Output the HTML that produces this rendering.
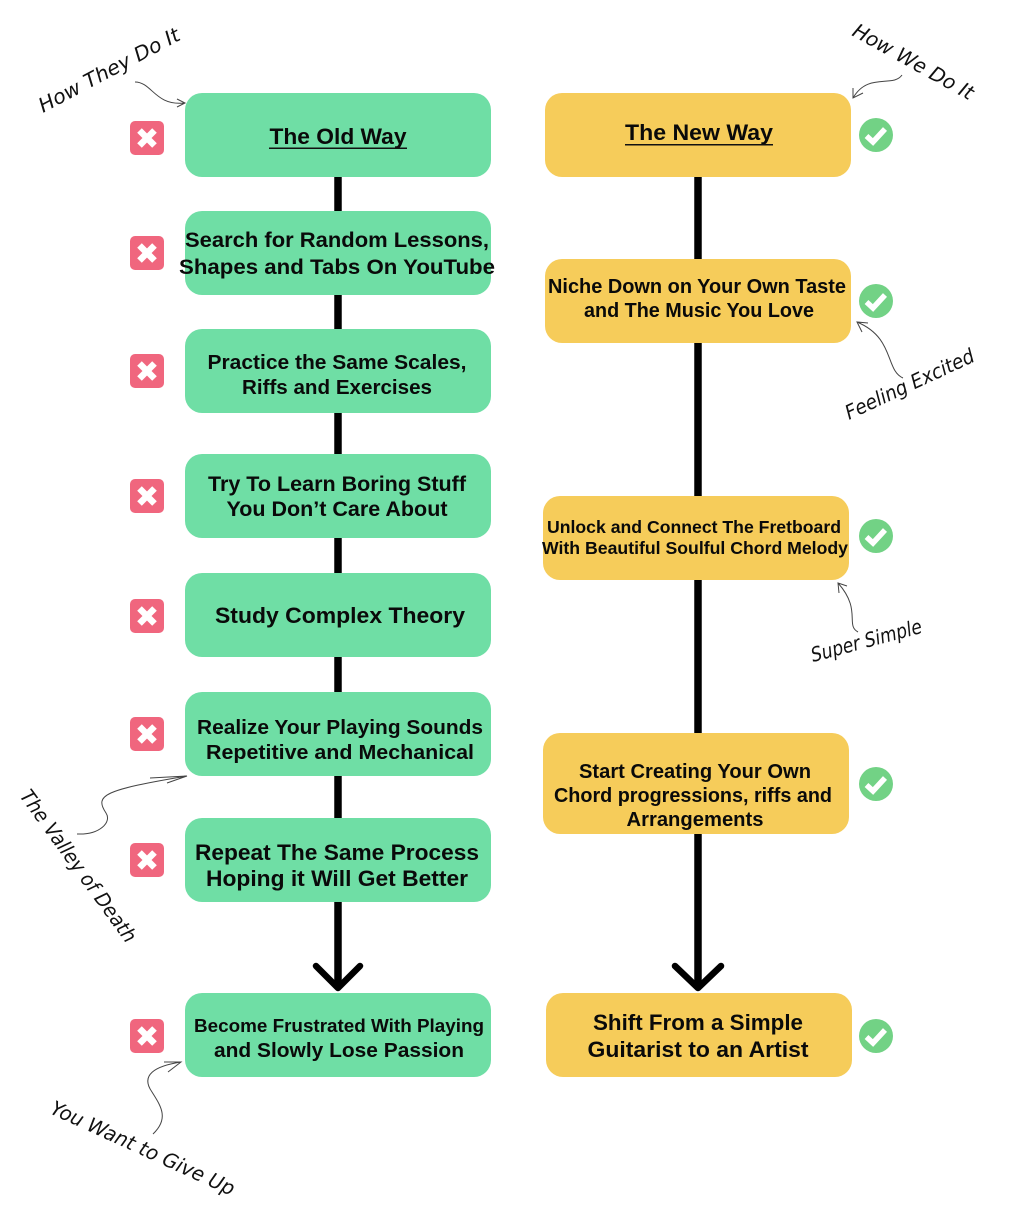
<!DOCTYPE html>
<html><head><meta charset="utf-8"><style>
html,body{margin:0;padding:0;background:#fff;width:1012px;height:1232px;overflow:hidden}
svg{display:block}
.t{font-family:"Liberation Sans",sans-serif;font-weight:bold;fill:#0a0a0a}
.h{font-family:"DejaVu Sans","Liberation Sans",sans-serif;font-size:20px;fill:#111;font-style:oblique}
.c{fill:none;stroke:#444;stroke-width:1}
</style></head><body>
<svg width="1012" height="1232" viewBox="0 0 1012 1232" xmlns="http://www.w3.org/2000/svg">
<defs>
<g id="x"><rect x="-17" y="-17" width="34" height="34" rx="5" fill="#f0667e"/><path d="M-7.500 -7.500L7.500 7.500M7.500 -7.500L-7.500 7.500" stroke="#fff" stroke-width="6.500"/></g>
<g id="v"><circle r="17" fill="#72d285"/><path d="M-9.500 1L-3 7L9 -6" fill="none" stroke="#fff" stroke-width="5.500"/></g>
</defs>
<!-- trunks -->
<g stroke="#000" stroke-width="7.500" fill="none">
<path d="M338 170V985"/>
<path d="M698 170V985"/>
</g>
<g stroke="#000" stroke-width="6.500" fill="none" stroke-linecap="round" stroke-linejoin="round">
<path d="M316 966L338 988L360 966"/>
<path d="M675 966L698 988L721 966"/>
</g>
<!-- old way boxes -->
<g fill="#6fdea5">
<rect x="185" y="93" width="306" height="84" rx="17"/>
<rect x="185" y="211" width="306" height="84" rx="17"/>
<rect x="185" y="329" width="306" height="84" rx="17"/>
<rect x="185" y="454" width="306" height="84" rx="17"/>
<rect x="185" y="573" width="306" height="84" rx="17"/>
<rect x="185" y="692" width="306" height="84" rx="17"/>
<rect x="185" y="818" width="306" height="84" rx="17"/>
<rect x="185" y="993" width="306" height="84" rx="17"/>
</g>
<!-- new way boxes -->
<g fill="#f6cc5a">
<rect x="545" y="93" width="306" height="84" rx="17"/>
<rect x="545" y="259" width="306" height="84" rx="17"/>
<rect x="543" y="496" width="306" height="84" rx="17"/>
<rect x="543" y="733" width="306" height="101" rx="17"/>
<rect x="546" y="993" width="306" height="84" rx="17"/>
</g>
<!-- left text -->
<g class="t" text-anchor="middle">
<text class="t" x="338" y="144" font-size="22" textLength="137" lengthAdjust="spacingAndGlyphs">The Old Way</text>
<rect x="269" y="147.500" width="138" height="1.500" fill="#111"/>
<text class="t" x="337" y="247" font-size="21.500" textLength="304" lengthAdjust="spacingAndGlyphs">Search for Random Lessons,</text>
<text class="t" x="337" y="274" font-size="21.500" textLength="316" lengthAdjust="spacingAndGlyphs">Shapes and Tabs On YouTube</text>
<text class="t" x="337" y="369" font-size="20" textLength="259" lengthAdjust="spacingAndGlyphs">Practice the Same Scales,</text>
<text class="t" x="337" y="394" font-size="20" textLength="190" lengthAdjust="spacingAndGlyphs">Riffs and Exercises</text>
<text class="t" x="337" y="491" font-size="21" textLength="258" lengthAdjust="spacingAndGlyphs">Try To Learn Boring Stuff</text>
<text class="t" x="337" y="516" font-size="21" textLength="221" lengthAdjust="spacingAndGlyphs">You Don’t Care About</text>
<text class="t" x="340" y="623" font-size="22.500" textLength="250" lengthAdjust="spacingAndGlyphs">Study Complex Theory</text>
<text class="t" x="340" y="734" font-size="20.500" textLength="286" lengthAdjust="spacingAndGlyphs">Realize Your Playing Sounds</text>
<text class="t" x="340" y="759" font-size="20.500" textLength="268" lengthAdjust="spacingAndGlyphs">Repetitive and Mechanical</text>
<text class="t" x="337" y="860" font-size="22" textLength="284" lengthAdjust="spacingAndGlyphs">Repeat The Same Process</text>
<text class="t" x="337" y="886" font-size="22" textLength="262" lengthAdjust="spacingAndGlyphs">Hoping it Will Get Better</text>
<text class="t" x="339" y="1032" font-size="18.500" textLength="290" lengthAdjust="spacingAndGlyphs">Become Frustrated With Playing</text>
<text class="t" x="339" y="1057" font-size="20.500" textLength="250" lengthAdjust="spacingAndGlyphs">and Slowly Lose Passion</text>
<!-- right text -->
<text class="t" x="699" y="140" font-size="22" textLength="148" lengthAdjust="spacingAndGlyphs">The New Way</text>
<rect x="625" y="144" width="148" height="1.500" fill="#111"/>
<text class="t" x="697" y="293" font-size="20" textLength="298" lengthAdjust="spacingAndGlyphs">Niche Down on Your Own Taste</text>
<text class="t" x="699" y="317" font-size="20" textLength="230" lengthAdjust="spacingAndGlyphs">and The Music You Love</text>
<text class="t" x="694" y="533" font-size="17.500" textLength="294" lengthAdjust="spacingAndGlyphs">Unlock and Connect The Fretboard</text>
<text class="t" x="695" y="554" font-size="17.500" textLength="306" lengthAdjust="spacingAndGlyphs">With Beautiful Soulful Chord Melody</text>
<text class="t" x="695" y="778" font-size="20" textLength="232" lengthAdjust="spacingAndGlyphs">Start Creating Your Own</text>
<text class="t" x="693" y="802" font-size="20" textLength="278" lengthAdjust="spacingAndGlyphs">Chord progressions, riffs and</text>
<text class="t" x="695" y="826" font-size="20" textLength="137" lengthAdjust="spacingAndGlyphs">Arrangements</text>
<text class="t" x="698" y="1030" font-size="22" textLength="210" lengthAdjust="spacingAndGlyphs">Shift From a Simple</text>
<text class="t" x="698" y="1057" font-size="22" textLength="221" lengthAdjust="spacingAndGlyphs">Guitarist to an Artist</text>
</g>
<!-- icons -->
<use href="#x" x="147" y="138"/>
<use href="#x" x="147" y="253"/>
<use href="#x" x="147" y="371"/>
<use href="#x" x="147" y="496"/>
<use href="#x" x="147" y="616"/>
<use href="#x" x="147" y="734"/>
<use href="#x" x="147" y="860"/>
<use href="#x" x="147" y="1036"/>
<use href="#v" x="876" y="135"/>
<use href="#v" x="876" y="301"/>
<use href="#v" x="876" y="536"/>
<use href="#v" x="876" y="784"/>
<use href="#v" x="876" y="1036"/>
<!-- handwritten labels -->
<text class="h" transform="translate(43,113) rotate(-28)" textLength="157" lengthAdjust="spacingAndGlyphs">How They Do It</text>
<text class="h" transform="translate(851,35) rotate(29)" textLength="135" lengthAdjust="spacingAndGlyphs">How We Do It</text>
<text class="h" transform="translate(849,420) rotate(-25)" textLength="140" lengthAdjust="spacingAndGlyphs">Feeling Excited</text>
<text class="h" transform="translate(813,662) rotate(-15)" textLength="114" lengthAdjust="spacingAndGlyphs">Super Simple</text>
<text class="h" transform="translate(19,796) rotate(54)" textLength="183" lengthAdjust="spacingAndGlyphs">The Valley of Death</text>
<text class="h" transform="translate(49,1113) rotate(24.500)" textLength="200" lengthAdjust="spacingAndGlyphs">You Want to Give Up</text>
<!-- connectors -->
<path class="c" d="M135 82C152 82 155 106 184 103M177 99L185 103L177 107"/>
<path class="c" d="M902 75C893 88 868 72 853 98M853 88L853 98L863 93"/>
<path class="c" d="M903 378C885 370 895 338 857 322M868 323L857 322L862 332"/>
<path class="c" d="M858 632C845 625 862 610 838 583M847 586L838 583L839 593"/>
<path class="c" d="M77 834C100 835 112 822 106 813C94 795 104 790 187 776M150 778L187 776L167 783"/>
<path class="c" d="M153 1134C170 1118 160 1105 152 1092C140 1075 155 1066 181 1062M164 1062L181 1062L168 1072"/>
</svg>
</body></html>
